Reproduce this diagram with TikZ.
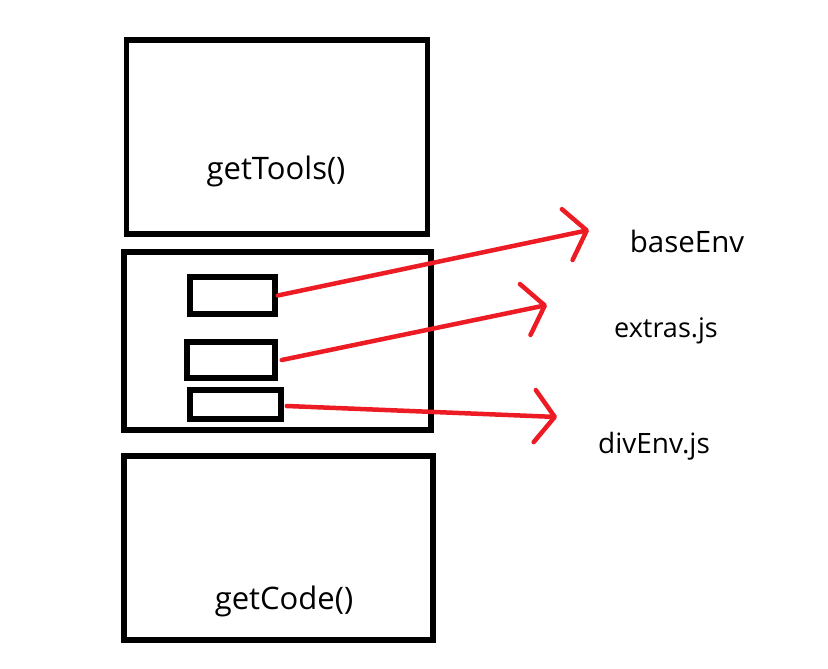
\documentclass[tikz,border=0pt]{standalone}
\usepackage{fontspec}
\setmainfont{Open Sans}
\usetikzlibrary{arrows.meta,positioning}
\definecolor{linkred}{HTML}{ED1C24}

\begin{document}
\begin{tikzpicture}[
      x=1pt, y=-1pt,
      frame/.style={
          rectangle,
          draw,
          line width=5.5pt,
          inner sep=0pt
        },
      label/.style={
          anchor=base,
          font=\fontsize{#1}{34}\selectfont
        },
      label/.default=28,
      link/.style={
          draw=linkred,
          line width=4.5pt,
          line cap=round,
          -{Straight Barb[length=20pt,width=52pt,round]}
        }
    ]
    \useasboundingbox (0,0) rectangle (828,669);

    % Explicit positions
    \node[frame, minimum width=301pt, minimum height=194pt] at (277,137) (tools) {};
    \node[frame, minimum width=307pt, minimum height=178pt] at (277.5,341) (env) {};
    \node[frame, minimum width=309pt, minimum height=184pt] at (278.5,548) (code) {};

    \node[frame, minimum width=85pt, minimum height=37pt] at (232.5,295.5) (slotA) {};
    \node[frame, minimum width=88pt, minimum height=36pt] at (231,360) (slotB) {};
    \node[frame, minimum width=91pt, minimum height=29pt] at (235.5,404.5) (slotC) {};

    \node[label=31] at (276,179) (toolsname) {getTools()};
    \node[label=31] at (284,609) (codename) {getCode()};

    \node[label=29.5] at (687,252) (base) {baseEnv};
    \node[label=27] at (666,337) (extras) {extras.js};
    \node[label=28] at (654,453) (divenv) {divEnv.js};

    % Arrow tips
    \coordinate (tipA) at (589,230);
    \coordinate (tipB) at (547,305);
    \coordinate (tipC) at (557,417);

    \draw[link] (slotA.east) -- (tipA);
    \draw[link] ([xshift=4pt]slotB.east) -- (tipB);
    \draw[link] ([xshift=3pt,yshift=-1.5pt]slotC.east) -- (tipC);
  \end{tikzpicture}
\end{document}
